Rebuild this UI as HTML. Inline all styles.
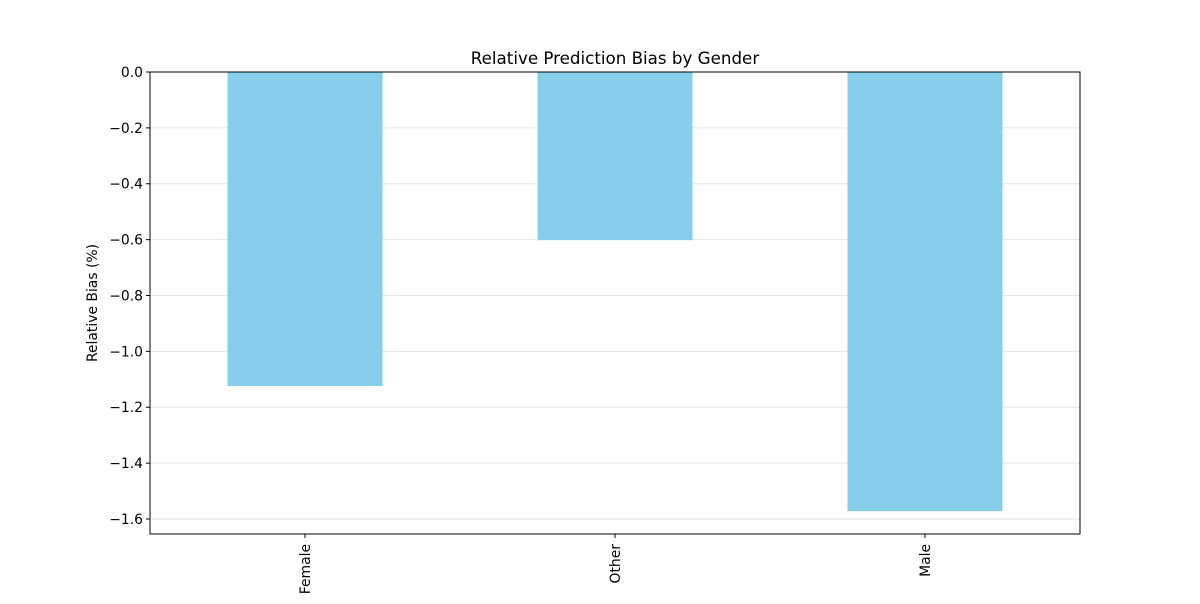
<!DOCTYPE html>
<html><head><meta charset="utf-8"><style>
body{margin:0;background:#fff;font-family:"DejaVu Sans","Liberation Sans",sans-serif;}
svg text{font-family:"DejaVu Sans","Liberation Sans",sans-serif;}
</style></head><body>
<svg id="chart" width="1200" height="600">
<text x="615" y="64" font-size="16.7" text-anchor="middle">Relative Prediction Bias by Gender</text>
<text transform="translate(97,303) rotate(-90)" font-size="13.9" text-anchor="middle">Relative Bias (%)</text>
<g id="grid"></g><g id="bars"></g><g id="yticks"></g><g id="xticks"></g>
<rect x="150" y="72" width="930" height="462" fill="none" stroke="#000" stroke-width="1"/>
</svg>
<script>
const categories=["Female","Other","Male"];
const values=[-1.124,-0.602,-1.572];
const yTicks=[0,-0.2,-0.4,-0.6,-0.8,-1.0,-1.2,-1.4,-1.6];
const yTickLabels=["0.0","−0.2","−0.4","−0.6","−0.8","−1.0","−1.2","−1.4","−1.6"];
const L=150,R=1080,T=72,B=534,yMin=-1.6537,yMax=0;
const NS="http://www.w3.org/2000/svg";
function y(v){return T+(yMax-v)/(yMax-yMin)*(B-T);}
function x(i){return L+(i+0.5)*(R-L)/categories.length;}
function mk(t,a,p){const e=document.createElementNS(NS,t);for(const k in a)e.setAttribute(k,a[k]);document.getElementById(p).appendChild(e);return e;}
yTicks.forEach((v,i)=>{
 const g=mk("line",{x1:L,x2:R,y1:y(v),y2:y(v),stroke:"#e6e6e6","stroke-width":1},"grid");
 
 
 const t=mk("line",{x1:L-4,x2:L,y1:y(v),y2:y(v),stroke:"#000"},"yticks");
 
 
 const l=mk("text",{x:L-7,y:y(v)+5,"font-size":13.9,"text-anchor":"end"},"yticks");
 l.textContent=yTickLabels[i];
 
 
});
const bw=(R-L)/categories.length*0.5;
categories.forEach((c,i)=>{
 const b=mk("rect",{x:x(i)-bw/2,y:y(0),width:bw,height:y(values[i])-y(0),fill:"#87ceeb"},"bars");
 
 
 const t=mk("line",{x1:x(i),x2:x(i),y1:B,y2:B+4,stroke:"#000"},"xticks");
 
 
 const l=mk("text",{transform:`translate(${x(i)+5},${B+10}) rotate(-90)`,"font-size":13.9,"text-anchor":"end"},"xticks");
 l.textContent=c;
 
 
});
</script>
</body></html>
